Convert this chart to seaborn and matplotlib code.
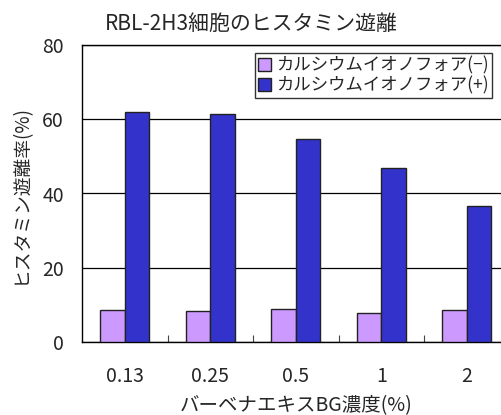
import pandas as pd
import seaborn as sns
import matplotlib.pyplot as plt

concentrations = ['0.13', '0.25', '0.5', '1', '2']
minus_values = [8.5, 8.3, 8.8, 7.9, 8.5]
plus_values = [62.0, 61.5, 54.6, 47.0, 36.7]
series_names = ['カルシウムイオノフォア(−)', 'カルシウムイオノフォア(+)']

df = pd.DataFrame({
    'conc': concentrations * 2,
    'value': minus_values + plus_values,
    'group': [series_names[0]] * 5 + [series_names[1]] * 5,
})

sns.set_style('white')
plt.rcParams['font.family'] = ['Noto Sans CJK JP', 'DejaVu Sans']

fig = plt.figure(figsize=(5.02, 4.15), dpi=100)
ax = fig.add_axes([82 / 502, 73 / 415, 427.5 / 502, 297 / 415])

sns.barplot(data=df, x='conc', y='value', hue='group', order=concentrations,
            hue_order=series_names, palette=['#CC99FF', '#3333CC'], saturation=1,
            width=0.57, edgecolor='#222222', linewidth=1.0, ax=ax, zorder=3)

ax.set_ylim(0, 80)
ax.set_yticks([0, 20, 40, 60, 80])
ax.set_xlim(-0.5, 4.5)
ax.yaxis.grid(True, color='black', linewidth=0.9, zorder=0)
ax.set_axisbelow(True)
for s in ax.spines.values():
    s.set_color('black')
    s.set_linewidth(1.0)

# category boundary ticks pointing inward
ax.set_xticks([0.5, 1.5, 2.5, 3.5], minor=True)
ax.tick_params(axis='x', which='minor', direction='in', length=5, width=0.8, color='#444444', bottom=True)
ax.tick_params(axis='x', which='major', length=0, pad=17, labelsize=14)
ax.tick_params(axis='y', which='major', length=0, pad=13, labelsize=14)

ax.set_xlabel('バーベナエキスBG濃度(%)', fontsize=14, labelpad=6)
ax.set_ylabel('ヒスタミン遊離率(%)', fontsize=13.5, labelpad=8)
fig.text(0.5, 1 - 24 / 415, 'RBL-2H3細胞のヒスタミン遊離', ha='center', va='center', fontsize=15)

leg = ax.legend(loc='upper left', bbox_to_anchor=(255 / 502, 1 - 53 / 415),
                bbox_transform=fig.transFigure, frameon=True, fancybox=False,
                fontsize=12.5, handlelength=0.75, handleheight=0.75, handletextpad=0.25,
                borderpad=0.2, labelspacing=0.1, borderaxespad=0)
leg.get_frame().set_edgecolor('black')
leg.get_frame().set_linewidth(1.0)

fig.savefig('out.png', dpi=100)
